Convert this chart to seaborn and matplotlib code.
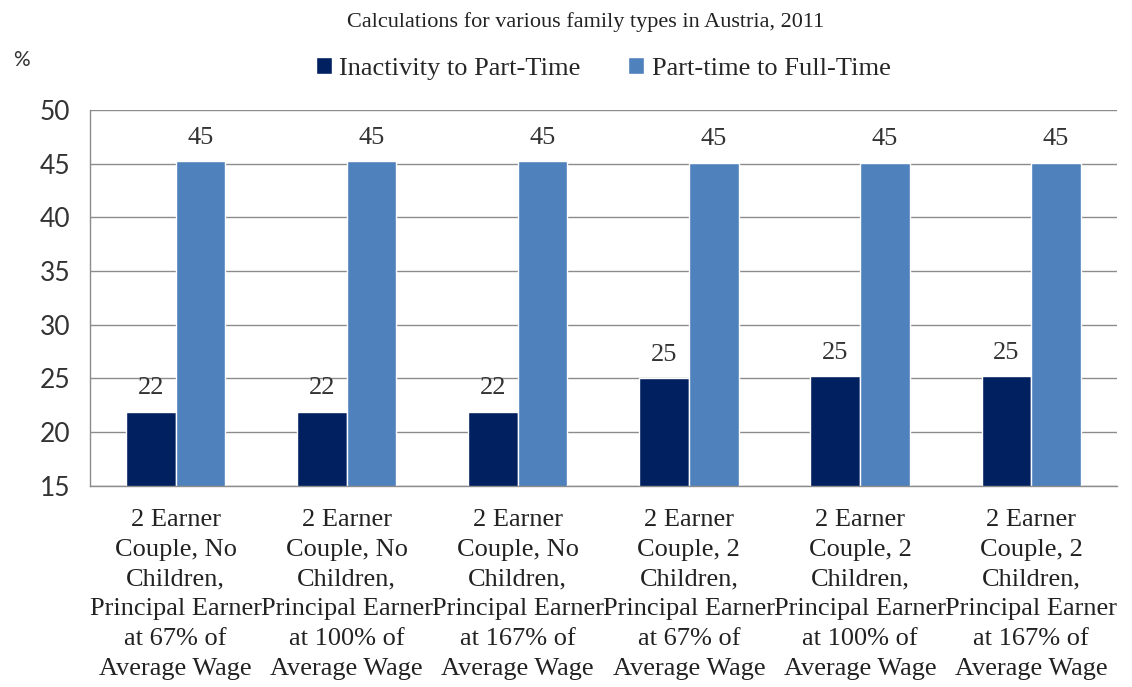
import pandas as pd
import matplotlib.pyplot as plt
import seaborn as sns
from matplotlib.ticker import FixedLocator

# ---- data ----
categories = [
    "2 Earner\nCouple, No\nChildren,\nPrincipal Earner\nat 67% of\nAverage Wage",
    "2 Earner\nCouple, No\nChildren,\nPrincipal Earner\nat 100% of\nAverage Wage",
    "2 Earner\nCouple, No\nChildren,\nPrincipal Earner\nat 167% of\nAverage Wage",
    "2 Earner\nCouple, 2\nChildren,\nPrincipal Earner\nat 67% of\nAverage Wage",
    "2 Earner\nCouple, 2\nChildren,\nPrincipal Earner\nat 100% of\nAverage Wage",
    "2 Earner\nCouple, 2\nChildren,\nPrincipal Earner\nat 167% of\nAverage Wage",
]
series_names = ["Inactivity to Part-Time", "Part-time to Full-Time"]
inactivity_to_part = [21.9, 21.9, 21.9, 25.0, 25.2, 25.2]
part_to_full = [45.2, 45.2, 45.2, 45.1, 45.1, 45.1]
colors = ["#002060", "#4F81BD"]

df = pd.DataFrame({
    "cat": categories * 2,
    "series": [series_names[0]] * 6 + [series_names[1]] * 6,
    "value": inactivity_to_part + part_to_full,
})

sns.set_style("white")
serif = ["Liberation Serif", "DejaVu Serif"]
sans = ["Lato", "DejaVu Sans"]

fig = plt.figure(figsize=(11.32, 6.87), dpi=100)
ax = fig.add_axes([0.0795, 0.293, 0.907, 0.547])

sns.barplot(data=df, x="cat", y="value", hue="series", palette=colors,
            width=0.58, saturation=1, ax=ax, legend=True)

ax.set_ylim(15, 50)
ax.set_yticks(range(15, 51, 5))
ax.yaxis.grid(True, color="#8c8c8c", linewidth=1)
ax.set_axisbelow(True)
for s in ["top", "right"]:
    ax.spines[s].set_visible(False)
for s in ["left", "bottom"]:
    ax.spines[s].set_color("#8c8c8c")
    ax.spines[s].set_linewidth(1)

ax.set_xlabel("")
ax.set_ylabel("")
ax.set_xlim(-0.5, 5.5)
ax.tick_params(axis="x", which="major", length=0, pad=17)
ax.xaxis.set_minor_locator(FixedLocator([i + 0.5 for i in range(-1, 6)]))
ax.tick_params(axis="x", which="minor", length=9, color="#8c8c8c", width=1)
ax.tick_params(axis="y", length=6, color="#8c8c8c", pad=8)
for lbl in ax.get_xticklabels():
    lbl.set_fontfamily(serif)
    lbl.set_fontsize(19)
    lbl.set_color("#222222")
    lbl.set_linespacing(1.45)
for lbl in ax.get_yticklabels():
    lbl.set_fontfamily(sans)
    lbl.set_fontsize(19)
    lbl.set_color("#333333")

# value labels
for cont in ax.containers:
    ax.bar_label(cont, fmt="%.0f", padding=9, fontsize=19,
                 family=serif, color="#333333")

# legend
handles, labels = ax.get_legend_handles_labels()
ax.legend(handles, labels, loc="lower center", bbox_to_anchor=(0.5, 1.016),
          ncol=2, frameon=False, prop={"family": serif, "size": 19},
          handlelength=0.6, handleheight=0.6, handletextpad=0.3,
          columnspacing=1.8)

fig.text(0.517, 0.968, "Calculations for various family types in Austria, 2011",
         ha="center", va="center", fontsize=16, family=serif, color="#222222")
fig.text(0.012, 0.912, "%", ha="left", va="center", fontsize=15,
         family=sans, color="#333333")

fig.savefig("out.png", dpi=100)
